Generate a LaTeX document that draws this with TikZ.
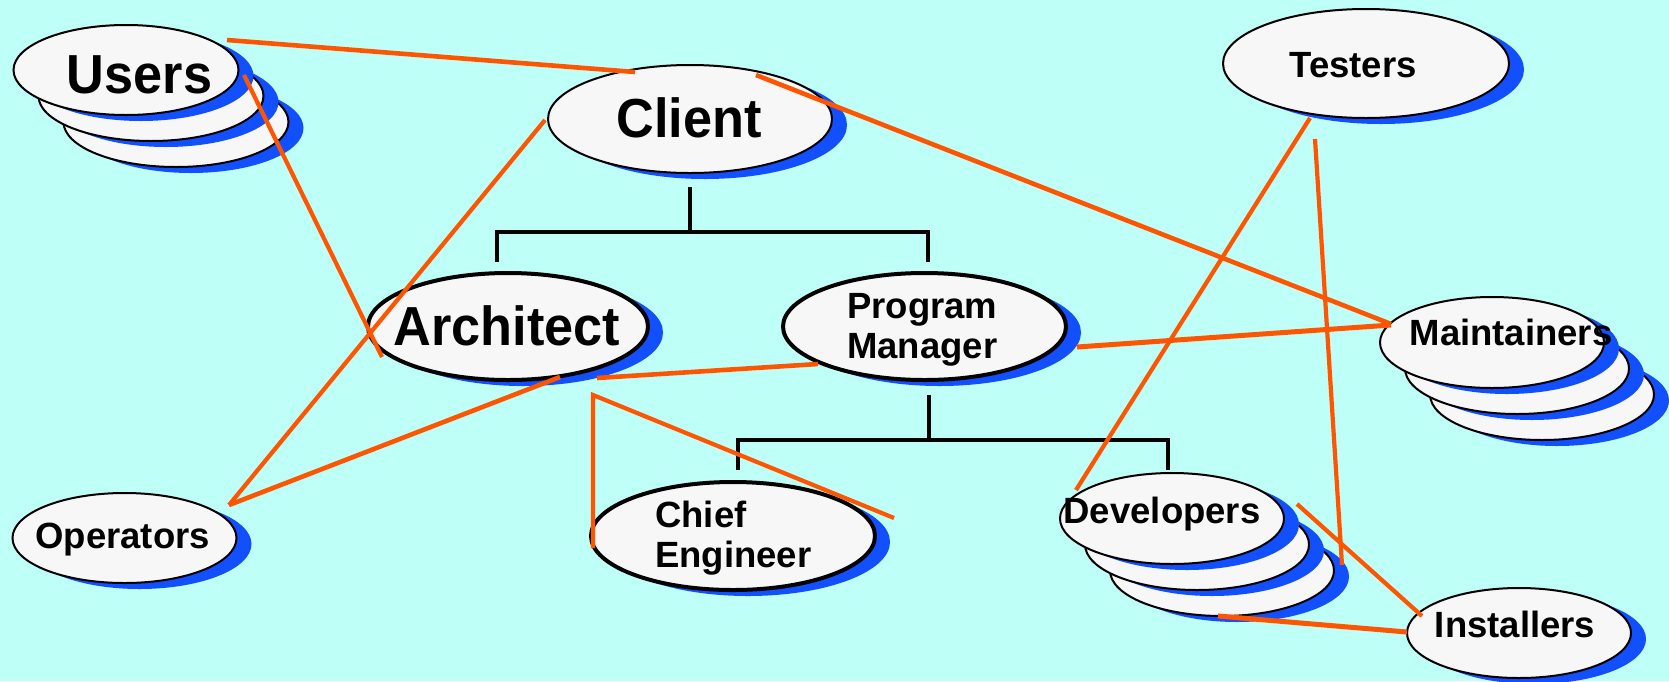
\documentclass[tikz,border=0pt]{standalone}
\usepackage{fontspec}
\usetikzlibrary{shapes.geometric,shadows,calc}
\newfontfamily\lblsmall{Liberation Sans}
\newfontfamily\lblbig{Liberation Sans}[FakeStretch=0.95]
\definecolor{bgcyan}{RGB}{190,255,248}
\definecolor{shblue}{RGB}{18,80,255}
\definecolor{facegrey}{RGB}{247,247,247}
\definecolor{linkorange}{RGB}{255,85,0}

\tikzset{
  role/.style={ellipse, draw=black, fill=facegrey, inner sep=0pt, line width=2pt,
    drop shadow={shadow xshift=15pt, shadow yshift=-6pt, fill=shblue, opacity=1}},
  lead/.style={role, line width=4pt},
  bigtext/.style={font=\lblbig\bfseries\fontsize{55}{60}\selectfont, inner sep=0pt, anchor=base},
  smalltext/.style={font=\lblsmall\bfseries\fontsize{36.5}{40}\selectfont, inner sep=0pt, anchor=base},
  tree/.style={line width=4pt, black},
  link/.style={linkorange, line width=4.6pt},
  thinlink/.style={linkorange, line width=4.2pt},
}

% extra ellipses stacked behind a group node: centre x, centre y, rx, ry, count
\newcommand\stackbehind[5]{%
  \foreach \k in {#5,...,1}{
    \fill[shblue] ({#1+25*\k+15},{#2+26*\k+6}) ellipse [x radius=#3pt, y radius=#4pt];
    \filldraw[fill=facegrey, draw=black, line width=2pt]
      ({#1+25*\k},{#2+26*\k}) ellipse [x radius=#3pt, y radius=#4pt];
  }}

\begin{document}
\begin{tikzpicture}[x=1pt, y=-1pt]
\useasboundingbox (0,0) rectangle (1669,681);
\fill[bgcyan] (0,0) rectangle (1669,681);

% ---- role ellipses ----
\stackbehind{126}{70}{112.5}{45}{2}
\node[role, minimum width=225pt, minimum height=90pt] (users) at (126,70) {};
\node[role, minimum width=284pt, minimum height=108pt] (client) at (690,119) {};
\node[lead, minimum width=280pt, minimum height=107pt] (architect) at (508,326.5) {};
\node[lead, minimum width=283pt, minimum height=107pt] (pm) at (924.5,326.5) {};
\node[role, minimum width=286pt, minimum height=109pt] (testers) at (1366,63.5) {};
\stackbehind{1492}{342.5}{112}{45.5}{2}
\node[role, minimum width=224pt, minimum height=91pt] (maintainers) at (1492,342.5) {};
\node[role, minimum width=224pt, minimum height=90pt] (operators) at (124.5,538) {};
\node[lead, minimum width=284pt, minimum height=108pt] (chief) at (733,536) {};
\stackbehind{1172}{518.5}{112}{45.5}{2}
\node[role, minimum width=224pt, minimum height=91pt] (developers) at (1172,518.5) {};
\node[role, minimum width=224pt, minimum height=90pt] (installers) at (1519,633) {};

% ---- labels ----
\node[bigtext] (users-t) at (139.5,93) {Users};
\node[bigtext] (client-t) at (689,137) {Client};
\node[bigtext] (architect-t) at (507,345) {Architect};
\node[smalltext, anchor=north west, align=left] (pm-t) at (847,293) {Program\\Manager};
\node[smalltext] (testers-t) at (1353,77.3) {Testers};
\node[smalltext] (maintainers-t) at (1511,345) {Maintainers};
\node[smalltext] (operators-t) at (122.6,548) {Operators};
\node[smalltext, anchor=north west, align=left] (chief-t) at (655,500.7) {Chief\\Engineer};
\node[smalltext] (developers-t) at (1162,523) {Developers};
\node[smalltext] (installers-t) at (1515,637) {Installers};

% ---- reporting tree ----
\coordinate (ct-top) at (690,187);
\coordinate (ct-mid) at (690,232);
\coordinate (ct-l) at (497,262);
\coordinate (ct-r) at (928,262);
\draw[tree] (ct-top) -- (ct-mid);
\draw[tree] (ct-l) |- (ct-mid) -| (ct-r);

\coordinate (pt-top) at (929,395);
\coordinate (pt-mid) at (929,440);
\coordinate (pt-l) at (738,470);
\coordinate (pt-r) at (1168,470);
\draw[tree] (pt-top) -- (pt-mid);
\draw[tree] (pt-l) |- (pt-mid) -| (pt-r);

% ---- communication links ----
\coordinate (u-a) at (227,40);    \coordinate (c-a) at (635,72);
\coordinate (u-b) at (244,75);    \coordinate (a-b) at (382,357);
\coordinate (c-c) at (545,120);   \coordinate (o-c) at (229,505);
\coordinate (a-d) at (560,377);
\coordinate (a-e) at (597,378);   \coordinate (p-e) at (818,364);
\coordinate (ce-bot) at (593,548); \coordinate (ce-top) at (593,395); \coordinate (ce-end) at (894,518);
\coordinate (c-f) at (756,75);    \coordinate (m-f) at (1391,324);
\coordinate (p-g) at (1077,347);  \coordinate (m-g) at (1391,325);
\coordinate (t-h) at (1310,118);  \coordinate (d-h) at (1076,490);
\coordinate (t-i) at (1315,139);  \coordinate (d-i) at (1342,565);
\coordinate (d-j) at (1297,504);  \coordinate (i-j) at (1422,616);
\coordinate (d-k) at (1218,616);  \coordinate (i-k) at (1407,632);

\draw[link] (u-a) -- (c-a);
\draw[thinlink] (u-b) -- (a-b);
\draw[thinlink] (c-c) -- (o-c);
\draw[link] (o-c) -- (a-d);
\draw[link] (a-e) -- (p-e);
\draw[thinlink] (ce-bot) -- (ce-top) -- (ce-end);
\draw[link] (c-f) -- (m-f);
\draw[link, line width=5pt] (p-g) -- (m-g);
\draw[thinlink] (t-h) -- (d-h);
\draw[thinlink] (t-i) -- (d-i);
\draw[thinlink] (d-j) -- (i-j);
\draw[link, line width=5pt] (d-k) -- (i-k);
\end{tikzpicture}
\end{document}
